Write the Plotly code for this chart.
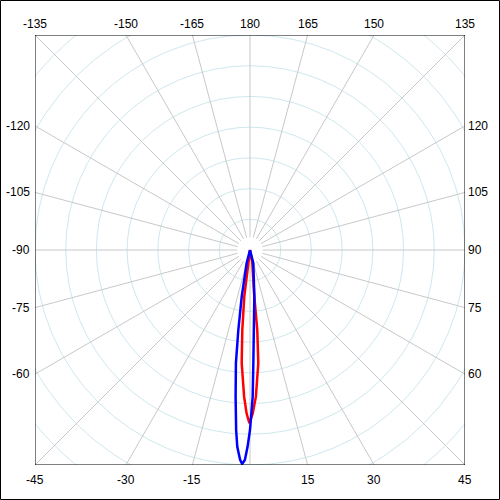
import numpy as np
import plotly.graph_objects as go

# grid: rings every 1 unit, spokes every 15 degrees (0 = down, 90 = right)
ring_radii = [1, 2, 3, 4, 5, 6, 7, 8, 9]
spoke_angles = list(range(-180, 180, 15))

top_labels = [-135, -150, -165, 180, 165, 150, 135]
bottom_labels = [-45, -30, -15, 15, 30, 45]
left_labels = [-120, -105, -90, -75, -60]
right_labels = [120, 105, 90, 75, 60]

# measured curves (angle in degrees, radius in ring units)
red_theta = [-90, -7.5, -7.0, -5.5, -4.2, -2.3, -1.2, -0.2, 0.95, 2.3, 4.2, 5.2, 5.3, 10, 90]
red_r = [0, 0.43, 1.53, 2.62, 3.69, 4.78, 5.32, 5.64, 5.32, 4.78, 3.69, 2.61, 1.53, 0.43, 0]

blue_theta = [-90, -14.2, -10.1, -8.3, -7.1, -5.6, -4.4, -3.7, -2.7, -2.1,
              -1.4, -0.7, 0, 1.05, 1.7, 2.9, 5.3, 14.2, 90]
blue_r = [0, 0.44, 1.54, 2.63, 3.71, 4.80, 5.88, 6.42, 6.84, 6.97,
          6.84, 6.40, 5.86, 4.78, 3.68, 2.61, 1.53, 0.44, 0]


def to_xy(theta, r):
    t = np.radians(np.asarray(theta, dtype=float))
    r = np.asarray(r, dtype=float)
    return r * np.sin(t), -r * np.cos(t)


def paper(v):
    return (v + EDGE) / (2 * EDGE)


EDGE = 7
ring_color = "#cfe7ef"
spoke_color = "#c8c8c8"

fig = go.Figure()

rx, ry = to_xy(red_theta, red_r)
fig.add_trace(go.Scatter(x=rx, y=ry, mode="lines", line=dict(color="#ff0000", width=2.5), hoverinfo="skip"))
bx, by = to_xy(blue_theta, blue_r)
fig.add_trace(go.Scatter(x=bx, y=by, mode="lines", line=dict(color="#0000ff", width=2.5), hoverinfo="skip"))

for k in ring_radii:
    fig.add_shape(type="circle", xref="x", yref="y", x0=-k, y0=-k, x1=k, y1=k,
                  line=dict(color=ring_color, width=1), layer="below")

for a in spoke_angles:
    (x0, x1), (y0, y1) = to_xy([a, a], [0.42, 11])
    fig.add_shape(type="line", xref="x", yref="y", x0=x0, y0=y0, x1=x1, y1=y1,
                  line=dict(color=spoke_color, width=1), layer="below")

font = dict(family="Liberation Sans, Arial", size=12, color="black")
for a in top_labels:
    t = np.radians(a)
    fig.add_annotation(xref="paper", yref="paper", x=paper(EDGE * np.sin(t) / -np.cos(t)), y=1,
                       text=str(a), showarrow=False, xanchor="center", yanchor="bottom",
                       yshift=2, font=font)
for a in bottom_labels:
    t = np.radians(a)
    fig.add_annotation(xref="paper", yref="paper", x=paper(EDGE * np.sin(t) / np.cos(t)), y=0,
                       text=str(a), showarrow=False, xanchor="center", yanchor="top",
                       yshift=-6, font=font)
for a in left_labels:
    t = np.radians(a)
    fig.add_annotation(xref="paper", yref="paper", x=0, y=paper(EDGE * np.cos(t) / np.sin(t)),
                       text=str(a), showarrow=False, xanchor="right", yanchor="middle",
                       xshift=-3, font=font)
for a in right_labels:
    t = np.radians(a)
    fig.add_annotation(xref="paper", yref="paper", x=1, y=paper(-EDGE * np.cos(t) / np.sin(t)),
                       text=str(a), showarrow=False, xanchor="left", yanchor="middle",
                       xshift=1, font=font)

# inner frame and outer border
fig.add_shape(type="rect", xref="x", yref="y", x0=-EDGE, y0=-EDGE, x1=EDGE, y1=EDGE,
              line=dict(color="black", width=1))
fig.add_shape(type="rect", xref="paper", yref="paper",
              x0=(0.5 - 35) / 430, x1=(499.5 - 35) / 430,
              y0=(0.5 - 35) / 430, y1=(499.5 - 35) / 430,
              line=dict(color="black", width=1))

fig.update_xaxes(range=[-EDGE, EDGE], showgrid=False, zeroline=False, showticklabels=False,
                 fixedrange=True)
fig.update_yaxes(range=[-EDGE, EDGE], showgrid=False, zeroline=False, showticklabels=False,
                 fixedrange=True, scaleanchor="x")
fig.update_layout(width=500, height=500, margin=dict(l=35, r=35, t=35, b=35),
                  paper_bgcolor="white", plot_bgcolor="white", showlegend=False)

# drop the default page margin so the 500x500 figure fills the window
fig.write_html("out.html", config={"displayModeBar": False},
               post_script="document.body.style.margin='0';")
